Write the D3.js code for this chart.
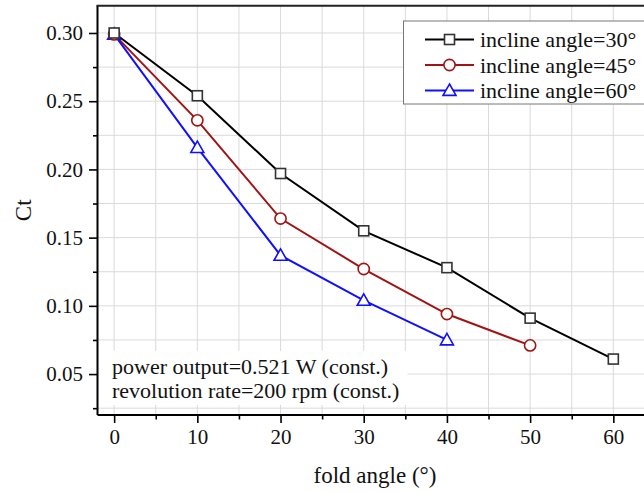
<!DOCTYPE html>
<html><head><meta charset="utf-8">
<script src="https://cdn.jsdelivr.net/npm/d3@7"></script>
<style>
html,body{margin:0;padding:0;background:#fff;}
svg{display:block;}
svg text{font-family:"Liberation Serif","Times New Roman",serif;}
</style></head>
<body>
<svg id="c" width="644" height="492"></svg>
<script>
const foldAngles = [0, 10, 20, 30, 40, 50, 60];
const ct30 = [0.300, 0.254, 0.197, 0.155, 0.128, 0.091, 0.061];
const ct45 = [0.299, 0.236, 0.164, 0.127, 0.094, 0.071];
const ct60 = [0.299, 0.216, 0.137, 0.104, 0.075];
const seriesNames = ["incline angle=30°", "incline angle=45°", "incline angle=60°"];
const seriesColors = ["#000000", "#a01414", "#1010ff"];
const seriesMarkers = ["square", "circle", "triangle"];
const xMajorTicks = [0, 10, 20, 30, 40, 50, 60];
const xMinorTicks = [5, 15, 25, 35, 45, 55];
const yMajorTicks = [0.05, 0.10, 0.15, 0.20, 0.25, 0.30];
const yMinorTicks = [0.025, 0.075, 0.125, 0.175, 0.225, 0.275];
const noteLines = ["power output=0.521 W (const.)", "revolution rate=200 rpm (const.)"];
const xTitle = "fold angle (°)";
const yTitle = "Ct";

const svg = d3.select("#c");
const L = 97.5, R = 646.6, T = 5.7, B = 415;
const x = d3.scaleLinear().domain([-2, 64]).range([L, R]);
const y = d3.scaleLinear().domain([0.02, 0.32]).range([B, T]);

const series = [ct30, ct45, ct60].map((vals, i) => ({
  name: seriesNames[i], color: seriesColors[i], marker: seriesMarkers[i],
  pts: vals.map((v, j) => [foldAngles[j], v])
}));

// grid
const grid = svg.append("g").attr("stroke", "#dadada").attr("stroke-width", 1);
xMajorTicks.concat(xMinorTicks).forEach(t => {
  grid.append("line").attr("x1", x(t)).attr("x2", x(t)).attr("y1", T).attr("y2", B);
});
yMajorTicks.concat(yMinorTicks).forEach(t => {
  grid.append("line").attr("x1", L).attr("x2", R).attr("y1", y(t)).attr("y2", y(t));
});

// annotation box
const note = svg.append("g");
note.append("rect").attr("x", L + 1).attr("y", 351).attr("width", 309).attr("height", 54).attr("fill", "#fff");
noteLines.forEach((t, i) => {
  note.append("text").attr("x", 112).attr("y", 374 + i * 23.5).attr("font-size", 22).attr("fill", "#111").text(t);
});

function drawMarker(g, type, cx, cy, color) {
  const sw = 1.6;
  if (type === "square") {
    g.append("rect").attr("x", cx - 5).attr("y", cy - 5).attr("width", 10).attr("height", 10)
      .attr("fill", "#fff").attr("stroke", "#333").attr("stroke-width", sw);
  } else if (type === "circle") {
    g.append("circle").attr("cx", cx).attr("cy", cy).attr("r", 5.6)
      .attr("fill", "#fff").attr("stroke", color).attr("stroke-width", sw);
  } else {
    const s = 6.5;
    g.append("path").attr("d", `M${cx},${cy - s}L${cx + s},${cy + s * 0.75}L${cx - s},${cy + s * 0.75}Z`)
      .attr("fill", "#fff").attr("stroke", color).attr("stroke-width", sw);
  }
}

const line = d3.line().x(d => x(d[0])).y(d => y(d[1]));
const plot = svg.append("g");
series.forEach(s => {
  plot.append("path").datum(s.pts).attr("d", line).attr("fill", "none")
    .attr("stroke", s.color).attr("stroke-width", 2);
});
series.slice().reverse().forEach(s => {
  s.pts.forEach(p => drawMarker(plot, s.marker, x(p[0]), y(p[1]), s.color));
});

// legend
const lg = svg.append("g");
lg.append("rect").attr("x", 403.5).attr("y", 21).attr("width", 250).attr("height", 83)
  .attr("fill", "#fff").attr("stroke", "#777").attr("stroke-width", 1);
series.forEach((s, i) => {
  const ly = 39.5 + i * 25.5;
  lg.append("line").attr("x1", 425).attr("x2", 474).attr("y1", ly).attr("y2", ly)
    .attr("stroke", s.color).attr("stroke-width", 2);
  drawMarker(lg, s.marker, 449.5, ly, s.color);
  lg.append("text").attr("x", 480).attr("y", ly + 7.5).attr("font-size", 22).attr("fill", "#111").text(s.name);
});

// axes
const xAxis = d3.axisBottom(x).tickValues(xMajorTicks).tickSize(8).tickPadding(6).tickFormat(d3.format("d"));
const gx = svg.append("g").attr("transform", `translate(0,${B})`).call(xAxis);
const xMinor = d3.axisBottom(x).tickValues(xMinorTicks).tickSize(4.5).tickFormat("");
const gxm = svg.append("g").attr("transform", `translate(0,${B})`).call(xMinor);
const yAxis = d3.axisLeft(y).tickValues(yMajorTicks).tickSize(8.5).tickPadding(6).tickFormat(d3.format(".2f"));
const gy = svg.append("g").attr("transform", `translate(${L},0)`).call(yAxis);
const yMinor = d3.axisLeft(y).tickValues(yMinorTicks).tickSize(4.5).tickFormat("");
const gym = svg.append("g").attr("transform", `translate(${L},0)`).call(yMinor);
[gx, gxm, gy, gym].forEach(g => {
  g.attr("font-family", null).attr("font-size", null);
  g.select(".domain").remove();
  g.selectAll("line").attr("stroke", "#000").attr("stroke-width", 1.6);
  g.selectAll("text").attr("font-size", 21).attr("fill", "#111");
});
// frame lines
svg.append("line").attr("x1", L).attr("x2", R).attr("y1", B).attr("y2", B).attr("stroke", "#000").attr("stroke-width", 2);
svg.append("line").attr("x1", L).attr("x2", L).attr("y1", T).attr("y2", B).attr("stroke", "#000").attr("stroke-width", 2);
svg.append("line").attr("x1", L - 1).attr("x2", R).attr("y1", T).attr("y2", T).attr("stroke", "#222").attr("stroke-width", 2);

// titles
svg.append("text").attr("x", 375).attr("y", 483).attr("text-anchor", "middle")
  .attr("font-size", 23).attr("fill", "#111").text(xTitle);
svg.append("text").attr("transform", `translate(31,${(T + B) / 2}) rotate(-90)`).attr("text-anchor", "middle")
  .attr("font-size", 23).attr("fill", "#111").text(yTitle);
</script>
</body></html>
